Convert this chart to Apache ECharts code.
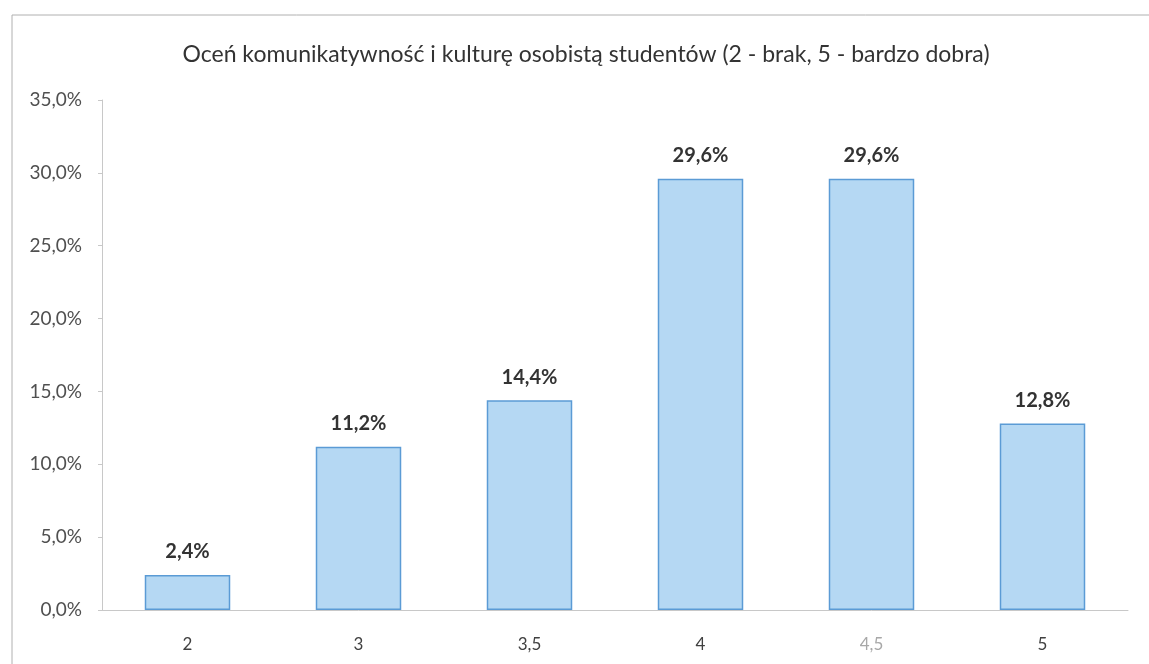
<!DOCTYPE html>
<html>
<head>
<meta charset="utf-8">
<script src="https://cdn.jsdelivr.net/npm/echarts@6/dist/echarts.min.js"></script>
<style>
  html, body { margin: 0; padding: 0; background: #fff; }
  #main { width: 1149px; height: 664px; }
</style>
</head>
<body>
<div id="main"></div>
<script>
var titleText = 'Oceń komunikatywność i kulturę osobistą studentów (2 - brak, 5 - bardzo dobra)';
var categories = ['2', '3', '3,5', '4', '4,5', '5'];
var values = [2.4, 11.2, 14.4, 29.6, 29.6, 12.8];
var yMin = 0, yMax = 35, yStep = 5;

function pl(v, digits) {
    return v.toFixed(digits).replace('.', ',') + '%';
}

var myChart = echarts.init(document.getElementById('main'));

var option = {
    backgroundColor: '#fff',
    textStyle: { fontFamily: 'Lato' },
    title: {
        text: titleText,
        left: 581,
        top: 38,
        textAlign: 'center',
        textStyle: { fontSize: 23, fontWeight: 'normal', color: '#333', fontFamily: 'Lato' }
    },
    graphic: [{
        type: 'rect',
        shape: { x: 12, y: 15, width: 1160, height: 700 },
        style: { fill: 'none', stroke: '#b0b0b0', lineWidth: 1 },
        silent: true
    }],
    grid: { left: 102, right: 21, top: 100, bottom: 54 },
    xAxis: {
        type: 'category',
        data: categories,
        axisLine: { lineStyle: { color: '#c8c8c8', width: 1 } },
        axisTick: { show: false },
        axisLabel: {
            fontSize: 17,
            margin: 26,
            color: function (val) { return val === '4,5' ? '#a8a8a8' : '#404040'; }
        }
    },
    yAxis: {
        type: 'value',
        min: yMin,
        max: yMax,
        interval: yStep,
        axisLine: { show: true, lineStyle: { color: '#c8c8c8', width: 1 } },
        axisTick: { show: true, length: 4, lineStyle: { color: '#c8c8c8' } },
        splitLine: { show: false },
        axisLabel: {
            fontSize: 19,
            margin: 20,
            color: '#505050',
            formatter: function (v) { return pl(v, 1); }
        }
    },
    series: [{
        type: 'bar',
        data: values,
        barWidth: '50%',
        itemStyle: { color: '#b5d8f3', borderColor: '#5b9bd5', borderWidth: 1.5 },
        label: {
            show: true,
            position: 'top',
            distance: 13,
            fontSize: 20,
            fontWeight: 'bold',
            color: '#333',
            formatter: function (p) { return pl(p.value, 1); }
        }
    }]
};

myChart.setOption(option);
</script>
</body>
</html>
